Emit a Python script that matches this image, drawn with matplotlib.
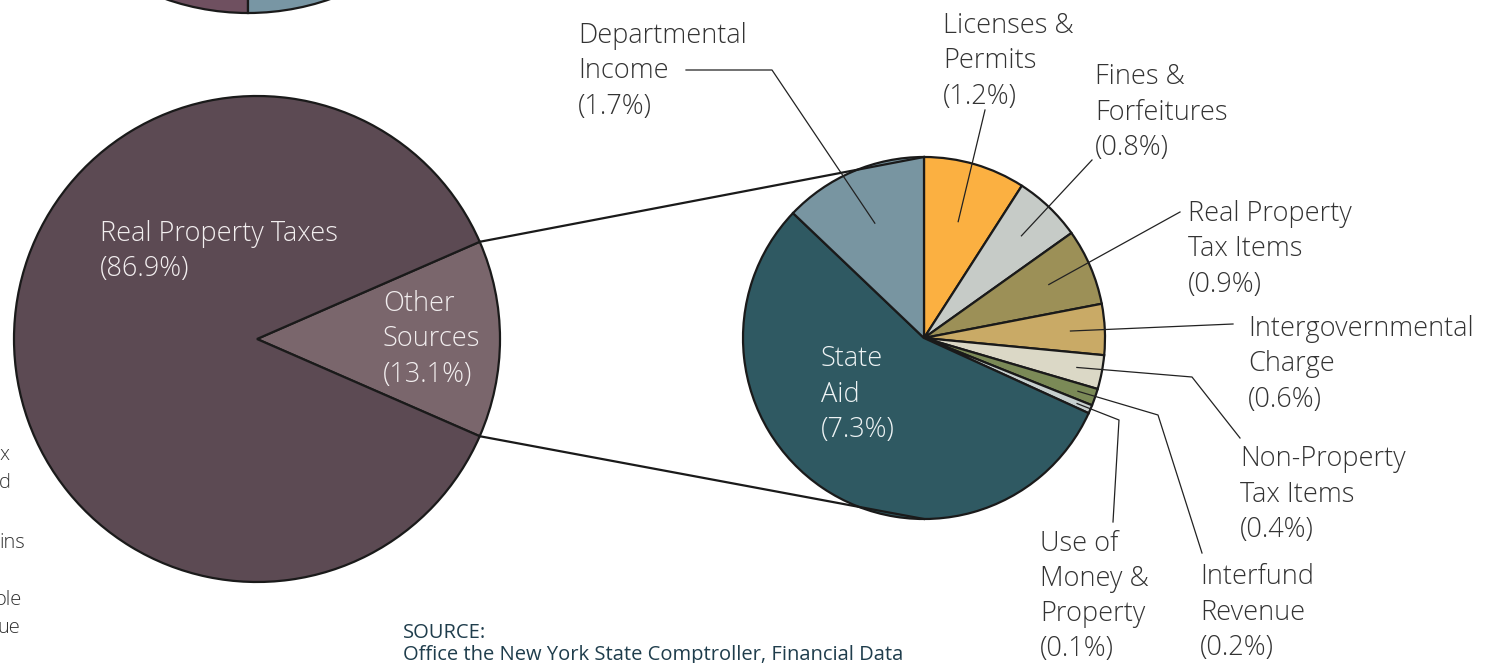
import numpy as np
import matplotlib.pyplot as plt

W, H = 1485, 663

# left pie: total revenue
main_labels = ['Other\nSources\n(13.1%)', 'Real Property Taxes\n(86.9%)']
main_values = [13.1, 86.9]
main_colors = ['#7a666c', '#5c4a53']

# right pie: breakdown of other sources (clockwise from top)
sub_labels = ['Licenses &\nPermits\n(1.2%)', 'Fines &\nForfeitures\n(0.8%)',
              'Real Property\nTax Items\n(0.9%)', 'Intergovernmental\nCharge\n(0.6%)',
              'Non-Property\nTax Items\n(0.4%)', 'Interfund\nRevenue\n(0.2%)',
              'Use of\nMoney &\nProperty\n(0.1%)', 'State\nAid\n(7.3%)',
              'Departmental\nIncome\n(1.7%)']
sub_values = [1.2, 0.8, 0.9, 0.6, 0.4, 0.2, 0.1, 7.3, 1.7]
sub_colors = ['#fbb041', '#c6cbc7', '#9c9057', '#c9aa66', '#dbd8c6',
              '#7b8a57', '#c6cfce', '#2f5962', '#7895a1']

# cropped pie above (only its lower edge is visible)
top_values = [50, 50]
top_colors = ['#6f5060', '#7896a4']

plt.rcParams['font.family'] = ['Open Sans', 'DejaVu Sans']
txt = '#333333'

fig = plt.figure(figsize=(W / 100, H / 100), dpi=100)
ax = fig.add_axes([0, 0, 1, 1])

def Y(y):
    return H - y

ew = dict(edgecolor='#1a1a1a', linewidth=1.6)

# top fragment
ax.pie(top_values, colors=top_colors, startangle=90, center=(248, Y(-237)),
       radius=250, wedgeprops=ew, frame=True)

# main pie
c1 = (257, Y(339)); r1 = 243
w1, _ = ax.pie(main_values, colors=main_colors, startangle=-main_values[0] / 100 * 180,
               center=c1, radius=r1, wedgeprops=ew, frame=True)

# sub pie
c2 = (924, Y(338)); r2 = 181
w2, _ = ax.pie(sub_values, colors=sub_colors, startangle=90, counterclock=False,
               center=c2, radius=r2, wedgeprops=ew, frame=True)
ax.set_xlim(0, W)
ax.set_ylim(0, H)
ax.set_aspect('equal')
ax.axis('off')

# connector lines
a_top = np.deg2rad(w1[0].theta2)
a_bot = np.deg2rad(w1[0].theta1)
ax.plot([c1[0] + r1 * np.cos(a_top), c2[0]], [c1[1] + r1 * np.sin(a_top), c2[1] + r2],
        color='#1a1a1a', lw=1.6)
ax.plot([c1[0] + r1 * np.cos(a_bot), c2[0]], [c1[1] + r1 * np.sin(a_bot), c2[1] - r2],
        color='#1a1a1a', lw=1.6)

def line_text(x, y0, s, color=txt, size=19.5, pitch=35.5, weight='light'):
    for i, ln in enumerate(s.split('\n')):
        ax.text(x, Y(y0 + i * pitch), ln, color=color, fontsize=size,
                ha='left', va='baseline', fontweight=weight)

# inside labels
line_text(100, 241, main_labels[1], color='#f2eeef')
line_text(383, 311, main_labels[0], color='#f2eeef')
line_text(821, 366, sub_labels[7], color='#eef3f4')

# outside labels: text position, leader start/elbow, depth in slice
lab_pos = {0: (943, 33), 1: (1095, 84), 2: (1188, 221), 3: (1248, 336),
           4: (1240, 466), 5: (1200, 584), 6: (1040, 551), 8: (578, 43)}
lead_from = {0: [(985, 110)], 1: [(1092, 160)], 2: [(1180, 212)], 3: [(1233, 324)],
             4: [(1240, 438), (1192, 377)], 5: [(1202, 553), (1158, 415)],
             6: [(1113, 522), (1119, 420)], 8: [(686, 70), (772, 70)]}
depth = {0: 0.67, 1: 0.78, 2: 0.75, 3: 0.81, 4: 0.86, 5: 0.9, 6: 0.92, 8: 0.69}

for i, (x, y) in lab_pos.items():
    line_text(x, y, sub_labels[i], pitch=35.0 if i == 6 else 35.5)
    wd = w2[i]
    mid = np.deg2rad((wd.theta1 + wd.theta2) / 2)
    px = c2[0] + depth[i] * r2 * np.cos(mid)
    py = c2[1] + depth[i] * r2 * np.sin(mid)
    pts = lead_from[i]
    xs = [p[0] for p in pts] + [px]
    ys = [Y(p[1]) for p in pts] + [py]
    ax.plot(xs, ys, color='#222222', lw=0.9)

# cropped text at left edge
for s, xr, yb in [('x', 9, 460), ('d', 11, 488), ('ins', 25, 548), ('ole', 22, 605), ('ue', 20, 633)]:
    ax.text(xr, Y(yb), s, color=txt, fontsize=14.5, ha='right', va='baseline', fontweight='light')

# source
ax.text(403, Y(638), 'SOURCE:', color='#1f3d4c', fontsize=14.5, va='baseline')
ax.text(403, Y(660), 'Office the New York State Comptroller, Financial Data', color='#1f3d4c',
        fontsize=14.5, va='baseline')

plt.savefig('out.png', dpi=100)
